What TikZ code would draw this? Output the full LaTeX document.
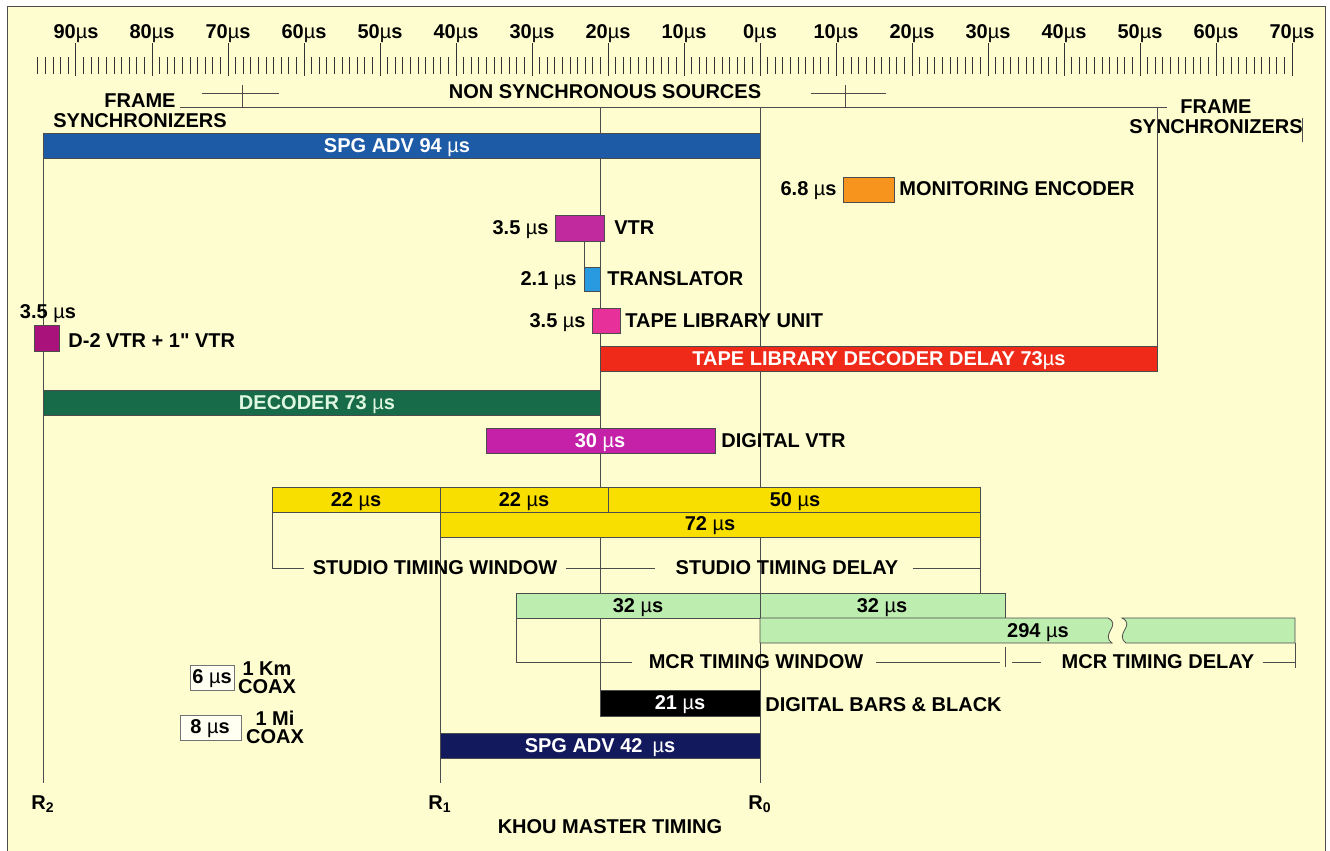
\documentclass[tikz,border=0pt]{standalone}
\usepackage{fontspec}
\setmainfont{Liberation Sans}[Ligatures=TeXOff]
\usetikzlibrary{positioning}

\definecolor{paper}{HTML}{FDFDCF}
\definecolor{spgblue}{HTML}{1E5BA6}
\definecolor{monorange}{HTML}{F7941E}
\definecolor{vtrmag}{HTML}{C02A9E}
\definecolor{transblue}{HTML}{2A9AE0}
\definecolor{tlupink}{HTML}{E8309A}
\definecolor{tldred}{HTML}{F02A18}
\definecolor{dtwomag}{HTML}{A8127A}
\definecolor{decgreen}{HTML}{186B48}
\definecolor{dectext}{HTML}{DDF7E0}
\definecolor{dvtrmag}{HTML}{C420A8}
\definecolor{studioyellow}{HTML}{F9DF00}
\definecolor{mcrgreen}{HTML}{BEEDB0}
\definecolor{spgnavy}{HTML}{12195C}
\definecolor{coaxfill}{HTML}{FFFFF2}

\newcommand{\micros}{{\mdseries µ}s}

\begin{document}
\begin{tikzpicture}[x=0.5pt,y=-0.5pt,
    every node/.style={font=\bfseries\fontsize{10}{10}\selectfont, inner sep=0pt, text depth=0pt},
    guide/.style={draw=black!70, line width=0.4pt},
    tickmark/.style={draw=black!80, line width=0.5pt},
    bar/.style={draw=black!70, line width=0.4pt},
    bartext/.style={text=white},
    coaxbox/.style={draw=black!55, line width=0.5pt, fill=coaxfill}]
    \useasboundingbox (0,0) rectangle (1330,851);
    % paper
    \fill[white] (0,0) rectangle (1330,851);
    \fill[paper] (7,6) rectangle (1325,851);
    \draw[black!70, line width=0.5pt] (7,851) -- (7,6) -- (1325,6) -- (1325,851);
    % ruler
    \foreach \t in {-95,...,70} {
        \pgfmathtruncatemacro\m{mod(abs(\t),10)}
        \ifnum\m=0
            \draw[tickmark] ({760+7.6*\t},43) -- ({760+7.6*\t},76);
        \else
            \draw[tickmark] ({760+7.6*\t},57) -- ({760+7.6*\t},74);
        \fi
    }
    \foreach \t in {-90,-80,...,70} {
        \pgfmathtruncatemacro\a{abs(\t)}
        \node (ruler\t) at ({760+7.6*\t},32) {\a\micros};
    }
    % frame synchronizer range
    \node[align=center] (fsleft) at (140,111) {FRAME\\SYNCHRONIZERS};
    \node[align=center] (fsright) at (1216,117) {FRAME\\SYNCHRONIZERS};
    \node (nonsync) at (605,92) {NON SYNCHRONOUS SOURCES};
    \draw[guide] (180,107) -- (1167,107);
    \draw[guide] (202,93) -- (279,93);
    \draw[guide] (242,85) -- (242,108);
    \draw[guide] (811,93) -- (886,93);
    \draw[guide] (845,85) -- (845,107);
    \draw[guide] (1302,118) -- (1302,142);
    % reference lines
    \coordinate (R2) at (43,783);
    \coordinate (R1) at (440,783);
    \coordinate (R0) at (760,783);
    \draw[guide] (43,158) -- (R2);
    \draw[guide] (440,487) -- (R1);
    \draw[guide] (760,107) -- (R0);
    \draw[guide] (600,107) -- (600,690);
    \draw[guide] (1157,107) -- (1157,346);
    \draw[guide] (584,241) -- (584,267);
    % sources
    \draw[bar, fill=spgblue] (43,133) rectangle (760,158);
    \node[bartext] (spg94) at (397,146) {SPG ADV 94 \micros};
    \draw[bar, fill=monorange] (843,177) rectangle (894,202);
    \node[anchor=east] (monval) at (837,189) {6.8 \micros};
    \node[anchor=west] (mon) at (899,189) {MONITORING ENCODER};
    \draw[bar, fill=vtrmag] (555,215) rectangle (604,241);
    \node[anchor=east] (vtrval) at (549,228) {3.5 \micros};
    \node[anchor=west] (vtr) at (614,228) {VTR};
    \draw[bar, fill=transblue] (584,267) rectangle (600,291);
    \node[anchor=east] (transval) at (577,279) {2.1 \micros};
    \node[anchor=west] (trans) at (607,279) {TRANSLATOR};
    \draw[bar, fill=tlupink] (592,308) rectangle (620,333);
    \node[anchor=east] (tluval) at (586,321) {3.5 \micros};
    \node[anchor=west] (tlu) at (625,321) {TAPE LIBRARY UNIT};
    \draw[bar, fill=tldred] (600,346) rectangle (1157,371);
    \node[bartext] (tld) at (879,359) {TAPE LIBRARY DECODER DELAY 73\micros};
    \draw[bar, fill=dtwomag] (34,325) rectangle (59,351);
    \node (dtwoval) at (48,312) {3.5 \micros};
    \node[anchor=west] (dtwo) at (68,341) {D-2 VTR + 1" VTR};
    \draw[bar, fill=decgreen] (43,390) rectangle (600,415);
    \node[text=dectext] (dec) at (317,403) {DECODER 73 \micros};
    \draw[bar, fill=dvtrmag] (486,428) rectangle (715,453);
    \node[bartext] (dvtrval) at (600,441) {30 \micros};
    \node[anchor=west] (dvtr) at (721,441) {DIGITAL VTR};
    % studio timing
    \draw[bar, fill=studioyellow] (272,487) rectangle (440,512);
    \draw[bar, fill=studioyellow] (440,487) rectangle (608,512);
    \draw[bar, fill=studioyellow] (608,487) rectangle (980,512);
    \draw[bar, fill=studioyellow] (440,512) rectangle (980,537);
    \node (stA) at (356,500) {22 \micros};
    \node (stB) at (524,500) {22 \micros};
    \node (stC) at (795,500) {50 \micros};
    \node (stD) at (710,524) {72 \micros};
    \node (stw) at (435,568) {STUDIO TIMING WINDOW};
    \node (std) at (787,568) {STUDIO TIMING DELAY};
    \draw[guide] (272,512) |- ([xshift=-4]stw.west);
    \draw[guide] ([xshift=4]stw.east) -- ([xshift=-10]std.west);
    \draw[guide] ([xshift=7]std.east) -| (980,537);
    \draw[guide] (980,568) -- (980,593);
    % mcr timing
    \draw[bar, fill=mcrgreen] (516,593) rectangle (760,618);
    \draw[bar, fill=mcrgreen] (760,593) rectangle (1005,618);
    \draw[bar, fill=mcrgreen] (760,618) -- (1108,618) .. controls (1122,625) and (1100,634) .. (1112,643) -- (760,643) -- cycle;
    \draw[bar, fill=mcrgreen] (1122,618) -- (1295,618) -- (1295,643) -- (1126,643) .. controls (1114,634) and (1136,625) .. (1122,618) -- cycle;
    \node (mcA) at (638,606) {32 \micros};
    \node (mcB) at (882,606) {32 \micros};
    \node (mcC) at (1038,631) {294 \micros};
    \node (mtw) at (756,662) {MCR TIMING WINDOW};
    \node (mtd) at (1158,662) {MCR TIMING DELAY};
    \draw[guide] (516,618) |- ([xshift=-8]mtw.west);
    \draw[guide] ([xshift=6]mtw.east) -- (1000,662);
    \draw[guide] (1005,647) -- (1005,667);
    \draw[guide] (1012,662) -- ([xshift=-10]mtd.west);
    \draw[guide] ([xshift=4]mtd.east) -| (1295,643);
    \draw[guide] (1295,662) -- (1295,668);
    % master timing
    \draw[bar, fill=black] (600,690) rectangle (760,716);
    \node[bartext] (bars) at (680,703) {21 \micros};
    \node[anchor=west] (barsname) at (765,705) {DIGITAL BARS \& BLACK};
    \draw[bar, fill=spgnavy] (440,733) rectangle (760,758);
    \node[bartext] (spg42) at (600,746) {SPG ADV 42\enspace\micros};
    \node[below=6pt of R2] (rtwo) {R\textsubscript{2}};
    \node[below=6pt of R1] (rone) {R\textsubscript{1}};
    \node[below=6pt of R0] (rzero) {R\textsubscript{0}};
    \node (khou) at (610,827) {KHOU MASTER TIMING};
    % coax
    \draw[coaxbox] (190,665) rectangle (234,690);
    \node (kmval) at (212,677) {6 \micros};
    \node[align=center] (km) at (267,678) {1 Km\\[-1pt]COAX};
    \draw[coaxbox] (180,715) rectangle (241,740);
    \node (mival) at (210,727) {8 \micros};
    \node[align=center] (mi) at (275,727) {1 Mi\\[-1pt]COAX};
\end{tikzpicture}
\end{document}
